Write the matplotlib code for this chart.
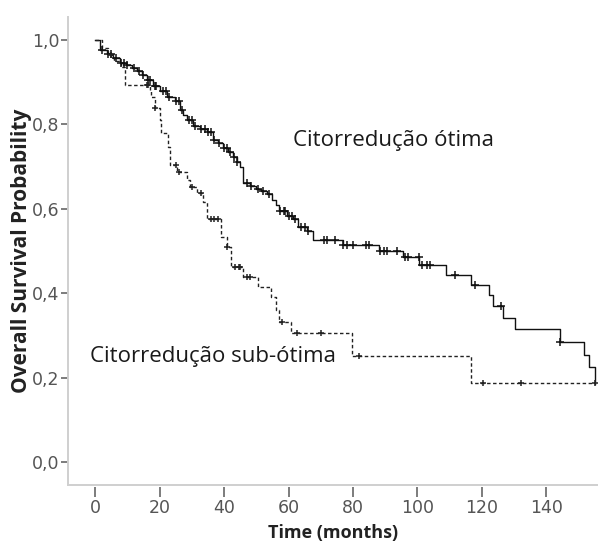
import numpy as np
import matplotlib
matplotlib.use("Agg")
import matplotlib.pyplot as plt

# ---- data ----
opt_times = [0, 1.5, 3.6, 5.5, 7.7, 9.5, 11.4, 13, 14.5, 16, 18, 20.1, 22.2, 24.8, 26.3,
             27.4, 28.4, 30.4, 32.5, 34.6, 36.6, 38.2, 39.7, 41.3, 42.8, 44.0, 44.9, 45.9,
             48, 50, 51.5, 53.2, 55, 56.2, 57, 59.5, 61.5, 63, 65.6, 67.5, 76.8, 88.2, 95.4,
             100.6, 108.9, 116.6, 122.3, 123.3, 126.6, 130.3, 144.2, 151.7, 153.3, 155.1]
opt_surv = [1.0, 0.976, 0.968, 0.957, 0.945, 0.940, 0.934, 0.926, 0.916, 0.905, 0.892, 0.878,
            0.866, 0.856, 0.834, 0.822, 0.810, 0.797, 0.790, 0.781, 0.763, 0.755, 0.745, 0.735,
            0.722, 0.711, 0.700, 0.660, 0.655, 0.648, 0.642, 0.635, 0.622, 0.608, 0.595, 0.583,
            0.575, 0.557, 0.548, 0.526, 0.514, 0.500, 0.486, 0.468, 0.443, 0.419, 0.396, 0.370,
            0.342, 0.314, 0.285, 0.253, 0.226, 0.186]
opt_censor = [2, 4, 5, 6.5, 8, 9, 10, 12, 13.5, 15, 16.5, 17, 18.5, 19, 21, 22, 23, 25, 26,
              27, 29, 30, 31, 33, 34, 35, 36, 37, 38.5, 40, 41, 42, 43, 44, 47, 48.5, 50.5,
              52, 54, 57.5, 58.5, 59, 60, 61, 62, 64, 65, 66, 71, 72, 74.5, 77, 78, 80, 84,
              85, 88.5, 89.5, 90.5, 93.5, 96, 97, 100.5, 101.5, 103, 104, 111.6, 117.7, 126,
              144.2]

sub_times = [0, 2, 4, 6, 8, 9.3, 17, 17.5, 18.6, 20.1, 20.6, 22.7, 23.2, 25.3, 28.4, 29.4,
             31.5, 33.5, 34.8, 39.2, 40.8, 42.3, 45.9, 50.6, 54.7, 56.2, 57.1, 60.7, 79.6,
             116.6, 155.1]
sub_surv = [1.0, 0.98, 0.965, 0.95, 0.935, 0.893, 0.882, 0.866, 0.838, 0.81, 0.779, 0.747,
            0.704, 0.688, 0.668, 0.652, 0.637, 0.617, 0.575, 0.534, 0.510, 0.463, 0.439,
            0.415, 0.392, 0.360, 0.332, 0.305, 0.251, 0.187, 0.187]
sub_censor = [5, 16, 16.5, 18.6, 25, 26, 30, 33, 36, 37, 38, 41, 43.5, 44.5, 45, 47, 48,
              58, 62.5, 70, 81.8, 120.4, 132.2, 155.1]

x_ticks = [0, 20, 40, 60, 80, 100, 120, 140]
y_ticks = [0.0, 0.2, 0.4, 0.6, 0.8, 1.0]
y_ticklabels = ["0,0", "0,2", "0,4", "0,6", "0,8", "1,0"]
label_opt = "Citorredução ótima"
label_sub = "Citorredução sub-ótima"


def surv_at(times, surv, t):
    idx = np.searchsorted(np.asarray(times), t, side="right") - 1
    return np.asarray(surv)[idx]


fig = plt.figure(figsize=(5.98, 5.43), dpi=100)
ax = fig.add_axes([68 / 598, (543 - 485) / 543, 1 - 68 / 598, (485 - 17) / 543])

ax.step(opt_times, opt_surv, where="post", color="#111111", lw=1.0, clip_on=False)
ax.step(sub_times, sub_surv, where="post", color="#222222", lw=1.0,
        linestyle=(0, (2.5, 1.8)), clip_on=False)
ax.plot(opt_censor, surv_at(opt_times, opt_surv, opt_censor), linestyle="none",
        marker="+", ms=6, mew=1.1, color="#111111", clip_on=False)
ax.plot(sub_censor, surv_at(sub_times, sub_surv, sub_censor), linestyle="none",
        marker="+", ms=5, mew=1.1, color="#222222", clip_on=False)

ax.set_xlim(-8.4, 156)
ax.set_ylim(-0.0545, 1.0545)

for s in ["top", "right"]:
    ax.spines[s].set_visible(False)
for s in ["left", "bottom"]:
    ax.spines[s].set_color("#cfcfcf")
    ax.spines[s].set_linewidth(1.4)

tick_font = ["Liberation Sans Narrow", "DejaVu Sans"]
ax.set_yticks(y_ticks)
ax.set_yticklabels(y_ticklabels, family=tick_font, fontsize=12.5, color="#555555")
ax.tick_params(axis="y", direction="out", length=5, width=1.2, color="#666666", pad=1)

ax.set_xticks([])
sec = ax.secondary_xaxis(-0.004)
sec.set_xticks(x_ticks)
sec.set_xticklabels([str(v) for v in x_ticks], family=tick_font, fontsize=12.5,
                    color="#555555")
sec.tick_params(axis="x", direction="out", length=7, width=1.2, color="#666666", pad=2)
sec.spines["bottom"].set_visible(False)

ax.set_ylabel("Overall Survival Probability", family=["Open Sans", "DejaVu Sans"],
              fontweight="bold", fontsize=15, color="#222222", labelpad=0)
sec.set_xlabel("Time (months)", family=["Open Sans", "DejaVu Sans"],
               fontweight="bold", fontsize=13, color="#222222", labelpad=5)

ax.text(61.3, 0.763, label_opt, family=["Open Sans", "DejaVu Sans"], fontsize=16,
        color="#1a1a1a", va="center", ha="left")
ax.text(-1.5, 0.249, label_sub, family=["Open Sans", "DejaVu Sans"], fontsize=16,
        color="#1a1a1a", va="center", ha="left")

fig.savefig("out.png", dpi=100)
